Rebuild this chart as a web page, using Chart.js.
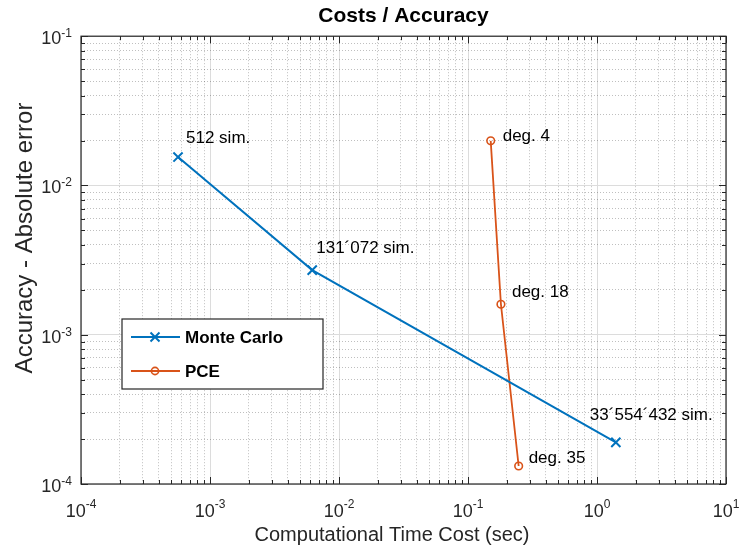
<!DOCTYPE html>
<html lang="en">
<head>
<meta charset="UTF-8">
<title>Costs / Accuracy</title>
<script src="https://cdn.jsdelivr.net/npm/chart.js"></script>
<style>
  html, body { margin: 0; padding: 0; background: #fff; }
  #wrap { width: 740px; height: 553px; }
</style>
</head>
<body>
<div id="wrap"><canvas id="myChart" width="740" height="553"></canvas></div>
<script>
// Monte Carlo: time cost (sec) vs absolute error
const mcLabel = 'Monte Carlo';
const mcTime = [5.65e-4, 6.2e-3, 1.40];
const mcError = [1.55e-2, 2.71e-3, 1.90e-4];
const mcNotes = ['512 sim.', '131´072 sim.', '33´554´432 sim.'];

// PCE: time cost (sec) vs absolute error
const pceLabel = 'PCE';
const pceTime = [0.150, 0.180, 0.247];
const pceError = [1.99e-2, 1.60e-3, 1.32e-4];
const pceNotes = ['deg. 4', 'deg. 18', 'deg. 35'];

// tick labels are 10^exp
const xExponents = ['-4', '-3', '-2', '-1', '0', '1'];
const yExponents = ['-4', '-3', '-2', '-1'];

const chartTitle = 'Costs / Accuracy';
const xTitle = 'Computational Time Cost (sec)';
const yTitle = 'Accuracy - Absolute error';

const FONT = "'Liberation Sans', Arial, Helvetica, sans-serif";
const AXIS_COLOR = '#262626';
const BLUE = '#0072BD';
const ORANGE = '#D95319';

// pixel offsets of the point notes (dx, dy from the marker, baseline)
const noteOffsets = [
    [[8, -14], [4, -17], [-26, -22]],
    [[12, 0], [11, -7], [10, -3]]
];

function toPoints(xs, ys) {
    return xs.map((x, i) => ({ x: x, y: ys[i] }));
}

// 1..9 x 10^n ticks for the grid, majors on the decades
function decadeTicks(scale, exps) {
    const first = parseInt(exps[0]);
    const last = parseInt(exps[exps.length - 1]);
    const ticks = [];
    for (let e = first; e < last; e++) {
        for (let m = 1; m < 10; m++) {
            ticks.push({ value: m * Math.pow(10, e), major: m === 1 });
        }
    }
    ticks.push({ value: Math.pow(10, last), major: true });
    scale.ticks = ticks;
}

function drawMarker(ctx, style, x, y, color) {
    ctx.save();
    ctx.strokeStyle = color;
    ctx.beginPath();
    if (style === 'crossRot') {
        ctx.lineWidth = 2;
        const r = 4.5;
        ctx.moveTo(x - r, y - r); ctx.lineTo(x + r, y + r);
        ctx.moveTo(x - r, y + r); ctx.lineTo(x + r, y - r);
    } else {
        ctx.lineWidth = 1.6;
        ctx.arc(x, y, 3.6, 0, Math.PI * 2);
    }
    ctx.stroke();
    ctx.restore();
}

const matlabAxes = {
    id: 'matlabAxes',
    afterDraw(chart) {
        const ctx = chart.ctx;
        const area = chart.chartArea;
        const xs = chart.scales.x;
        const ys = chart.scales.y;

        ctx.save();
        // box
        ctx.strokeStyle = AXIS_COLOR;
        ctx.lineWidth = 1.2;
        ctx.strokeRect(area.left, area.top, area.right - area.left, area.bottom - area.top);

        // inward ticks on all four sides
        ctx.lineWidth = 1;
        ctx.beginPath();
        xs.ticks.forEach(t => {
            const px = Math.round(xs.getPixelForValue(t.value)) + 0.5;
            const len = t.major ? 7 : 4;
            ctx.moveTo(px, area.bottom); ctx.lineTo(px, area.bottom - len);
            ctx.moveTo(px, area.top); ctx.lineTo(px, area.top + len);
        });
        ys.ticks.forEach(t => {
            const py = Math.round(ys.getPixelForValue(t.value)) + 0.5;
            const len = t.major ? 7 : 4;
            ctx.moveTo(area.left, py); ctx.lineTo(area.left + len, py);
            ctx.moveTo(area.right, py); ctx.lineTo(area.right - len, py);
        });
        ctx.stroke();

        // tick labels 10^n
        ctx.fillStyle = '#262626';
        ctx.textBaseline = 'alphabetic';
        ctx.textAlign = 'left';
        const baseFont = '18px ' + FONT;
        const expFont = '12px ' + FONT;
        xExponents.forEach(e => {
            const px = xs.getPixelForValue(Math.pow(10, parseInt(e)));
            ctx.font = baseFont;
            const w1 = ctx.measureText('10').width;
            ctx.font = expFont;
            const w2 = ctx.measureText(e).width;
            const x0 = px - (w1 + w2) / 2;
            ctx.font = baseFont;
            ctx.fillText('10', x0, area.bottom + 33);
            ctx.font = expFont;
            ctx.fillText(e, x0 + w1, area.bottom + 24);
        });
        yExponents.forEach(e => {
            const py = ys.getPixelForValue(Math.pow(10, parseInt(e)));
            ctx.font = expFont;
            const w2 = ctx.measureText(e).width;
            ctx.font = baseFont;
            const w1 = ctx.measureText('10').width;
            const x1 = area.left - 9;
            ctx.fillText('10', x1 - w2 - w1, py + 8);
            ctx.font = expFont;
            ctx.fillText(e, x1 - w2, py + 1);
        });

        // axis titles
        ctx.fillStyle = '#262626';
        ctx.textAlign = 'center';
        ctx.textBaseline = 'middle';
        ctx.font = '20px ' + FONT;
        ctx.fillText(xTitle, 392, 535);
        ctx.save();
        ctx.translate(25, 238);
        ctx.rotate(-Math.PI / 2);
        ctx.font = '24px ' + FONT;
        ctx.fillText(yTitle, 0, 0);
        ctx.restore();

        // point notes
        ctx.textAlign = 'left';
        ctx.textBaseline = 'alphabetic';
        ctx.fillStyle = '#000';
        ctx.font = '17px ' + FONT;
        [mcNotes, pceNotes].forEach((notes, i) => {
            const meta = chart.getDatasetMeta(i);
            notes.forEach((txt, j) => {
                const p = meta.data[j];
                const off = noteOffsets[i][j];
                ctx.fillText(txt, p.x + off[0], p.y + off[1]);
            });
        });

        // legend box
        const lx = 122, ly = 319, lw = 201, lh = 70;
        ctx.fillStyle = '#fff';
        ctx.fillRect(lx, ly, lw, lh);
        ctx.strokeStyle = AXIS_COLOR;
        ctx.lineWidth = 1.2;
        ctx.strokeRect(lx, ly, lw, lh);
        ctx.font = 'bold 17px ' + FONT;
        chart.data.datasets.forEach((ds, i) => {
            const ry = ly + 18 + i * 34;
            ctx.strokeStyle = ds.borderColor;
            ctx.lineWidth = ds.borderWidth;
            ctx.beginPath();
            ctx.moveTo(lx + 9, ry); ctx.lineTo(lx + 58, ry);
            ctx.stroke();
            drawMarker(ctx, ds.pointStyle, lx + 33, ry, ds.borderColor);
            ctx.fillStyle = '#000';
            ctx.fillText(ds.label, lx + 63, ry + 6);
        });
        ctx.restore();
    }
};

const ctx = document.getElementById('myChart').getContext('2d');
new Chart(ctx, {
    type: 'line',
    data: {
        datasets: [{
            label: mcLabel,
            data: toPoints(mcTime, mcError),
            borderColor: BLUE,
            backgroundColor: BLUE,
            borderWidth: 2,
            pointStyle: 'crossRot',
            pointRadius: 6.5,
            pointBorderWidth: 2,
            tension: 0
        }, {
            label: pceLabel,
            data: toPoints(pceTime, pceError),
            borderColor: ORANGE,
            backgroundColor: 'rgba(255,255,255,0)',
            borderWidth: 1.8,
            pointStyle: 'circle',
            pointRadius: 3.8,
            pointBorderWidth: 1.6,
            tension: 0
        }]
    },
    options: {
        responsive: false,
        animation: false,
        devicePixelRatio: 1,
        layout: { padding: { top: 0, left: 0, right: 14, bottom: 0 } },
        plugins: {
            legend: { display: false },
            tooltip: { enabled: false },
            title: {
                display: true,
                text: chartTitle,
                color: '#000',
                fullSize: false,
                font: { family: FONT, size: 21, weight: 'bold' },
                padding: { top: 4, bottom: 7 }
            }
        },
        scales: {
            x: {
                type: 'logarithmic',
                min: 1e-4,
                max: 10,
                afterBuildTicks: s => decadeTicks(s, xExponents),
                afterFit: s => { s.height = 69; },
                ticks: { display: false },
                grid: {
                    drawTicks: false,
                    color: c => (c.tick && c.tick.major) ? '#dcdcdc' : 'rgba(0,0,0,0.25)'
                },
                border: { display: false, dash: c => (c.tick && !c.tick.major) ? [1, 2] : [] }
            },
            y: {
                type: 'logarithmic',
                min: 1e-4,
                max: 1e-1,
                afterBuildTicks: s => decadeTicks(s, yExponents),
                afterFit: s => { s.width = 81; },
                ticks: { display: false },
                grid: {
                    drawTicks: false,
                    color: c => (c.tick && c.tick.major) ? '#dcdcdc' : 'rgba(0,0,0,0.25)'
                },
                border: { display: false, dash: c => (c.tick && !c.tick.major) ? [1, 2] : [] }
            }
        }
    },
    plugins: [matlabAxes]
});
</script>
</body>
</html>
